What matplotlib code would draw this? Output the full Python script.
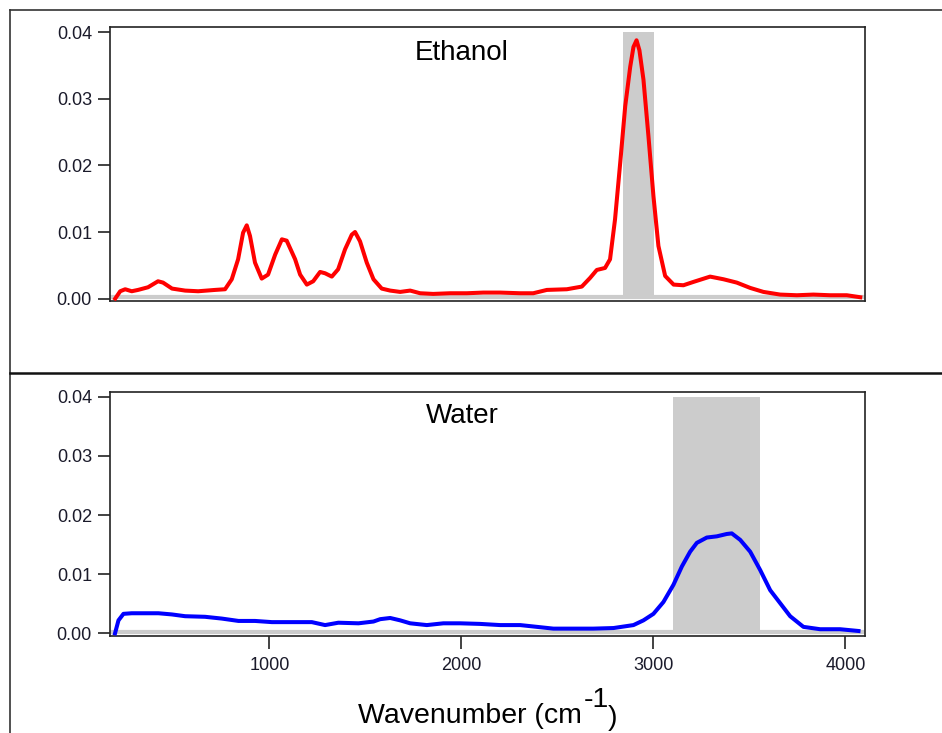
import matplotlib.pyplot as plt
from matplotlib.lines import Line2D

plt.rcParams['font.family'] = ['Liberation Sans', 'DejaVu Sans']

# Ethanol spectrum
ethanol_wn = [197, 223, 249, 283, 316, 368, 420, 446, 493, 561, 629, 717, 769, 804,
              837, 863, 882, 899, 925, 960, 993, 1030, 1065, 1090, 1134, 1160, 1195,
              1228, 1264, 1290, 1325, 1358, 1394, 1429, 1446, 1472, 1507, 1542, 1585,
              1629, 1681, 1733, 1785, 1853, 1941, 2028, 2114, 2201, 2306, 2374, 2445,
              2549, 2627, 2670, 2705, 2748, 2774, 2800, 2827, 2853, 2879, 2896, 2912,
              2927, 2948, 2974, 3000, 3026, 3061, 3105, 3156, 3208, 3295, 3365, 3434,
              3504, 3573, 3660, 3747, 3833, 3920, 4007, 4077]
ethanol_int = [0.0000, 0.0011, 0.0014, 0.0011, 0.0013, 0.0017, 0.0026, 0.0024, 0.0015,
               0.0012, 0.0011, 0.0013, 0.0014, 0.0029, 0.0059, 0.0099, 0.0110, 0.0094,
               0.0054, 0.0030, 0.0036, 0.0066, 0.0089, 0.0087, 0.0059, 0.0036, 0.0021,
               0.0026, 0.0040, 0.0038, 0.0033, 0.0044, 0.0074, 0.0096, 0.0100, 0.0086,
               0.0054, 0.0029, 0.0015, 0.0012, 0.0010, 0.0012, 0.0008, 0.0007, 0.0008,
               0.0008, 0.0009, 0.0009, 0.0008, 0.0008, 0.0013, 0.0014, 0.0018, 0.0031,
               0.0043, 0.0046, 0.0059, 0.0119, 0.0204, 0.0289, 0.0348, 0.0378, 0.0388,
               0.0373, 0.0329, 0.0244, 0.0154, 0.0079, 0.0034, 0.0021, 0.0020, 0.0025,
               0.0033, 0.0029, 0.0024, 0.0016, 0.0010, 0.0006, 0.0005, 0.0006, 0.0005,
               0.0005, 0.0002]

# Water spectrum
water_wn = [196, 214, 240, 283, 353, 422, 492, 561, 665, 752, 839, 925, 1013, 1117,
            1221, 1290, 1359, 1464, 1542, 1577, 1629, 1681, 1733, 1820, 1906, 1993,
            2097, 2202, 2306, 2393, 2479, 2583, 2687, 2792, 2896, 2948, 3000, 3052,
            3104, 3148, 3191, 3226, 3278, 3330, 3382, 3408, 3452, 3504, 3556, 3608,
            3660, 3712, 3781, 3868, 3972, 4068]
water_int = [0.0000, 0.0022, 0.0033, 0.0034, 0.0034, 0.0034, 0.0032, 0.0029, 0.0028,
             0.0025, 0.0021, 0.0021, 0.0019, 0.0019, 0.0019, 0.0014, 0.0018, 0.0017,
             0.0020, 0.0024, 0.0026, 0.0022, 0.0017, 0.0014, 0.0017, 0.0017, 0.0016,
             0.0014, 0.0014, 0.0011, 0.0008, 0.0008, 0.0008, 0.0009, 0.0014, 0.0022,
             0.0033, 0.0053, 0.0082, 0.0113, 0.0138, 0.0153, 0.0162, 0.0164, 0.0168,
             0.0169, 0.0158, 0.0138, 0.0107, 0.0073, 0.0051, 0.0029, 0.0011, 0.0007,
             0.0007, 0.0004]

# shaded bands (wavenumber ranges)
ethanol_band = (2843, 3004)
water_band = (3101, 3556)
band_top = 0.04

y_ticks = [0.00, 0.01, 0.02, 0.03, 0.04]
x_ticks = [1000, 2000, 3000, 4000]


def style_axis(ax, ylim):
  """ Common look for both panels """
  ax.set_xlim(170, 4102)
  ax.set_ylim(*ylim)
  ax.set_yticks(y_ticks)
  ax.set_yticklabels(['%.2f' % t for t in y_ticks])
  for side in ax.spines.values():
    side.set_linewidth(1.2)
    side.set_color('#222222')
  ax.tick_params(axis='y', direction='out', length=9, width=1.2, pad=4,
                 labelsize=13, color='#222222', labelcolor='#1a1a2a')
  ax.axhline(0.0003, color='#cccccc', lw=3, zorder=1)


fig = plt.figure(figsize=(9.42, 7.33), dpi=100)

ax1 = fig.add_axes([0.1168, 0.5894, 0.8015, 0.3738])
ax2 = fig.add_axes([0.1168, 0.1323, 0.8015, 0.3329])

# Ethanol panel
style_axis(ax1, (-0.00036, 0.0408))
ax1.fill_between(ethanol_band, 0, band_top, color='#cccccc', lw=0, zorder=1)
ax1.plot(ethanol_wn, ethanol_int, color='#ff0000', lw=2.9, zorder=3)
ax1.set_xticks([])
ax1.text(0.466, 0.905, 'Ethanol', transform=ax1.transAxes, ha='center',
         va='center', fontsize=20)

# Water panel
style_axis(ax2, (-0.00045, 0.0408))
ax2.fill_between(water_band, 0, band_top, color='#cccccc', lw=0, zorder=1)
ax2.plot(water_wn, water_int, color='#0000ff', lw=2.9, zorder=3)
ax2.set_xticks(x_ticks)
ax2.tick_params(axis='x', direction='out', length=9, width=1.2, pad=6,
                labelsize=13, color='#222222', labelcolor='#1a1a2a')
ax2.text(0.466, 0.90, 'Water', transform=ax2.transAxes, ha='center',
         va='center', fontsize=20)

# x label built from pieces so the exponent sits high and full size
fig.text(582 / 942, 1 - 723 / 733, 'Wavenumber (cm', ha='right', va='baseline',
         fontsize=20.5)
fig.text(584 / 942, 1 - 707 / 733, '-1', ha='left', va='baseline', fontsize=20.5)
fig.text(608 / 942, 1 - 725 / 733, ')', ha='left', va='baseline', fontsize=20.5)

# outer frame lines of the original layout
fig.add_artist(Line2D([10 / 942, 10 / 942], [0, 1 - 9.5 / 733],
                      transform=fig.transFigure, color='#333333', lw=1.2))
fig.add_artist(Line2D([10 / 942, 1], [1 - 9.5 / 733, 1 - 9.5 / 733],
                      transform=fig.transFigure, color='#333333', lw=1.2))
fig.add_artist(Line2D([10 / 942, 1], [1 - 372.5 / 733, 1 - 372.5 / 733],
                      transform=fig.transFigure, color='#111111', lw=1.8))

fig.savefig('out.png', dpi=100)
